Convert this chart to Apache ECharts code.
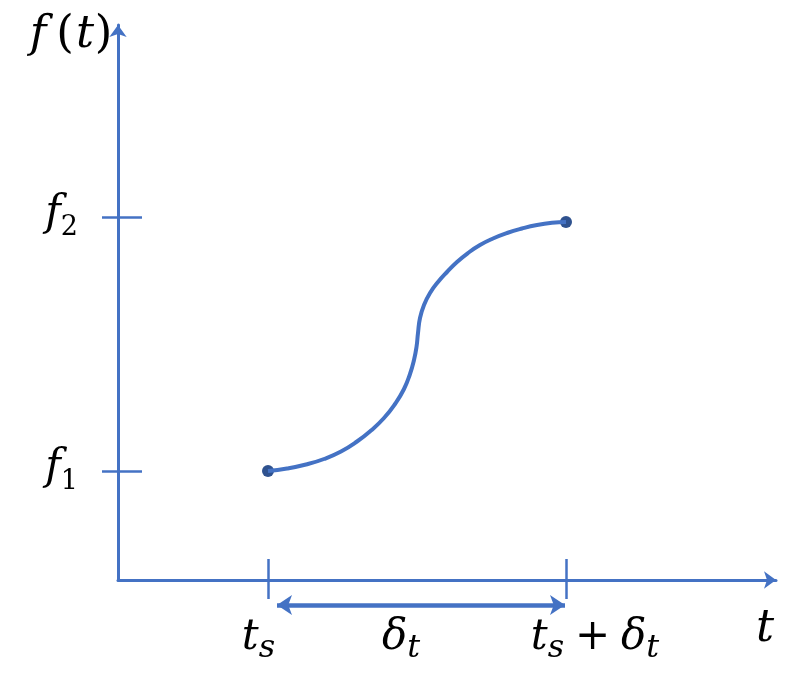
<!DOCTYPE html>
<html><head><meta charset="utf-8">
<script src="https://cdn.jsdelivr.net/npm/echarts@6/dist/echarts.min.js"></script>
<style>html,body{margin:0;padding:0;background:#fff}#c{width:789px;height:678px}</style>
</head><body><div id="c"></div>
<script>
// ---- data (diagram units) ----
const tStart = 150;   // t_s
const tDelta = 298;   // δ_t
const fLow = 109;     // f1
const fHigh = 363;    // f2
const xMax = 658;
const yMax = 555;
const curveT = [150,169,188,206,223,239,253,266,277,286,292,296,298.5,300,302,306,312,320,329,339,350,362,375,389,404,419,434,448];
const curveF = [109,111.5,115.5,121,128.5,138.5,149.5,162,176,191,206,220,233,247,262,275,287,298,308,318,327,335,341.5,347,351.5,355,357.2,358];
const xTickValues = [tStart, tStart + tDelta / 2, tStart + tDelta];
const xTickLabels = ['{i|t}{s|s}{r|}', '{d|δ}{s|t}{r2|}', '{l|}{i|t}{s|s}{o|+}{d|δ}{s|t}'];
const yTickValues = [fLow, fHigh];
const yTickLabels = ['{i|f}{n|1}', '{i|f}{n|2}'];

// ---- styles ----
const BLUE = '#4472C4';
const DOT = '#2F528F';
const SERIF = 'DejaVu Serif';
const rich = {
  i: {fontFamily: SERIF, fontStyle: 'italic', fontSize: 42, color: '#000', verticalAlign: 'bottom', lineHeight: 48, padding: [0,0,6,0]},
  d: {fontFamily: SERIF, fontStyle: 'italic', fontSize: 42, color: '#000', verticalAlign: 'bottom', lineHeight: 48, padding: [0,0,6,0]},
  s: {fontFamily: SERIF, fontStyle: 'italic', fontSize: 32, color: '#000', verticalAlign: 'bottom', lineHeight: 32},
  n: {fontFamily: SERIF, fontSize: 27, color: '#000', verticalAlign: 'bottom', lineHeight: 30},
  o: {fontFamily: SERIF, fontSize: 42, color: '#000', verticalAlign: 'bottom', lineHeight: 48, padding: [0,0,6,0], width: 57, align: 'center'},
  t: {fontFamily: SERIF, fontStyle: 'italic', fontSize: 45, color: '#000', verticalAlign: 'bottom', lineHeight: 48},
  r: {width: 19},
  r2: {width: 32},
  l: {width: 58}
};
const tickLines = [];
yTickValues.forEach(v => tickLines.push({coords: [[-16, v], [24, v]]}));
[tStart, tStart + tDelta].forEach(v => tickLines.push({coords: [[v, 21], [v, -19]]}));

const chart = echarts.init(document.getElementById('c'));
chart.setOption({
  animation: false,
  backgroundColor: '#fff',
  grid: {left: 118, right: 13, top: 25, bottom: 98, containLabel: false},
  xAxis: {
    type: 'value', min: 0, max: xMax,
    splitLine: {show: false}, axisTick: {show: false},
    axisLine: {onZero: false, symbol: ['none', 'arrow'], symbolSize: [13, 12], lineStyle: {color: BLUE, width: 3}},
    axisLabel: {
      customValues: xTickValues, margin: 37, rich: rich,
      formatter: v => xTickLabels[xTickValues.indexOf(v)]
    },
    name: '{t|t}', nameLocation: 'end', nameGap: -20,
    nameTextStyle: {align: 'left', verticalAlign: 'top', padding: [24,0,0,0], rich: rich}
  },
  yAxis: {
    type: 'value', min: 0, max: yMax,
    splitLine: {show: false}, axisTick: {show: false},
    axisLine: {onZero: false, symbol: ['none', 'arrow'], symbolSize: [13, 12], lineStyle: {color: BLUE, width: 3}},
    axisLabel: {
      customValues: yTickValues, margin: 40, rich: rich,
      formatter: v => yTickLabels[yTickValues.indexOf(v)]
    },
    name: '{f|f}{p|(}{t|t}{q|)}', nameLocation: 'end', nameGap: -10,
    nameTextStyle: {
      align: 'right', verticalAlign: 'middle', padding: [0, 6, 0, 0],
      rich: {
        f: {fontFamily: SERIF, fontStyle: 'italic', fontSize: 45, color: '#000', width: 34, align: 'center'},
        p: {fontFamily: SERIF, fontSize: 45, color: '#000', width: 20, align: 'center'},
        t: {fontFamily: SERIF, fontStyle: 'italic', fontSize: 45, color: '#000', width: 20, align: 'center'},
        q: {fontFamily: SERIF, fontSize: 45, color: '#000', width: 17, align: 'center'}
      }
    }
  },
  series: [
    {
      type: 'lines', coordinateSystem: 'cartesian2d', clip: false, silent: true,
      lineStyle: {color: BLUE, width: 2.5, opacity: 1}, symbol: 'none',
      data: tickLines
    },
    {
      type: 'lines', coordinateSystem: 'cartesian2d', clip: false, silent: true,
      lineStyle: {color: BLUE, width: 4.5, opacity: 1},
      symbol: ['arrow', 'arrow'], symbolSize: 15,
      data: [{coords: [[tStart + 9, -25], [tStart + tDelta - 1, -25]]}]
    },
    {
      type: 'line', smooth: 0.5, showSymbol: false, silent: true,
      lineStyle: {color: BLUE, width: 4},
      data: curveT.map((t, k) => [t, curveF[k]])
    },
    {
      type: 'scatter', symbolSize: 12, silent: true,
      itemStyle: {color: DOT, opacity: 1},
      data: [[curveT[0], curveF[0]], [curveT[curveT.length - 1], curveF[curveF.length - 1]]]
    }
  ]
});
</script></body></html>
